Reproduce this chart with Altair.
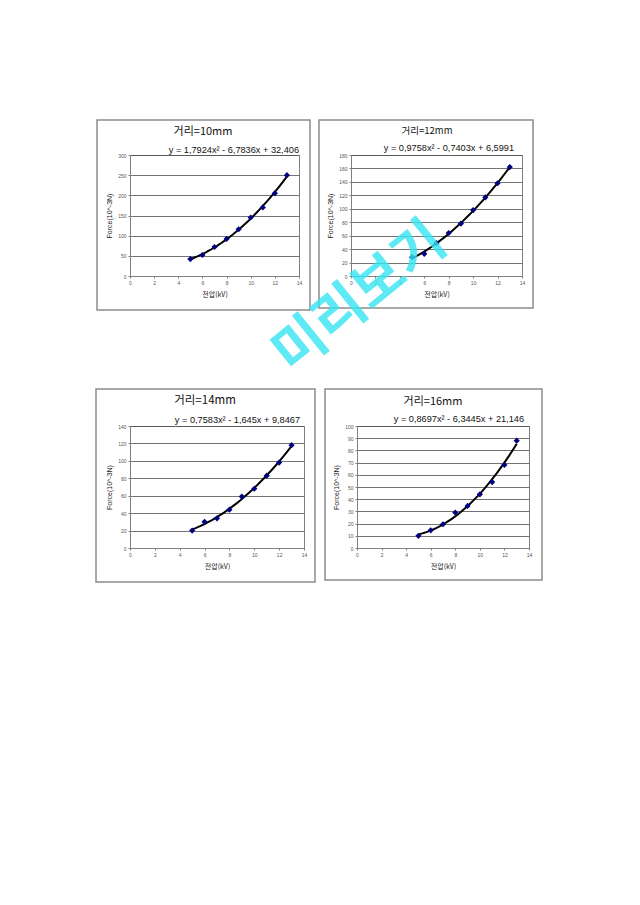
import altair as alt
import pandas as pd

# ---- data ----
voltage = [5, 6, 7, 8, 9, 10, 11, 12, 13]
force_10mm = [42, 52, 72, 92, 116, 145, 170, 205, 250]
force_12mm = [28, 33, 49, 64, 78, 98, 117, 138, 162]
force_14mm = [20, 30, 34, 44, 59, 68, 83, 98, 118]
force_16mm = [10, 14.5, 19.5, 29, 34.5, 44, 54, 68, 88]

titles = ["거리=10mm", "거리=12mm", "거리=14mm", "거리=16mm"]
equations = [
    "y = 1,7924x² - 6,7836x + 32,406",
    "y = 0,9758x² - 0,7403x + 6,5991",
    "y = 0,7583x² - 1,645x + 9,8467",
    "y = 0,8697x² - 6,3445x + 21,146",
]
x_ticks = [0, 2, 4, 6, 8, 10, 12, 14]
y_ticks_10 = [0, 50, 100, 150, 200, 250, 300]
y_ticks_12 = [0, 20, 40, 60, 80, 100, 120, 140, 160, 180]
y_ticks_14 = [0, 20, 40, 60, 80, 100, 120, 140]
y_ticks_16 = [0, 10, 20, 30, 40, 50, 60, 70, 80, 90, 100]
x_title = "전압(kV)"
y_title = "Force(10^-3N)"
watermark = "미리보기"

LATIN = "Liberation Sans, Noto Sans CJK KR"
KR = "Noto Sans CJK KR, Liberation Sans"


def panel(force, title, eq, yticks, w, h, frame, tpos, tsize, epos, mark=None):
    df = pd.DataFrame({"x": voltage, "y": force})
    xs = alt.Scale(domain=[x_ticks[0], x_ticks[-1]], nice=False)
    ys = alt.Scale(domain=[yticks[0], yticks[-1]], nice=False)
    xaxis = alt.Axis(values=x_ticks, tickCount=len(x_ticks), title=x_title,
                     grid=False, titleFont=KR, labelFont=LATIN)
    yaxis = alt.Axis(values=yticks, tickCount=len(yticks), title=y_title,
                     grid=True, titleFont=LATIN, labelFont=LATIN)
    xenc = alt.X("x:Q", scale=xs, axis=xaxis)
    yenc = alt.Y("y:Q", scale=ys, axis=yaxis)
    base = alt.Chart(df)
    fit = base.transform_regression(
        "x", "y", method="poly", order=2, extent=[voltage[0], voltage[-1]]
    ).mark_line(color="black", strokeWidth=2).encode(x=xenc, y=yenc)
    pts = base.mark_point(shape="diamond", filled=True, color="#000080",
                          size=38, opacity=1).encode(x=xenc, y=yenc)

    tdf = pd.DataFrame({"t": [title], "e": [eq], "w": [mark or ""]})
    tbase = alt.Chart(tdf)
    fl, fr, ft, fb = frame
    rect = tbase.mark_rect(fill="white", fillOpacity=0, stroke="#8c8c8c",
                           strokeWidth=1.5).encode(
        x=alt.value(fl), x2=alt.value(w + fr),
        y=alt.value(ft), y2=alt.value(h + fb))
    ttl = tbase.mark_text(font=KR, fontSize=tsize, color="#111",
                          align="center", baseline="middle").encode(
        x=alt.value(tpos[0]), y=alt.value(tpos[1]), text="t:N")
    eqt = tbase.mark_text(font=LATIN, fontSize=9.2, color="#111",
                          align="right", baseline="middle").encode(
        x=alt.value(epos[0]), y=alt.value(epos[1]), text="e:N")
    layers = [rect, fit, pts, ttl, eqt]
    if mark:
        wm = tbase.mark_text(font=KR, fontSize=55, fontWeight="bold",
                             color="#36e6f2", opacity=0.8, angle=321,
                             align="center", baseline="middle").encode(
            x=alt.value(mark_pos[0]), y=alt.value(mark_pos[1]), text="w:N")
        layers.append(wm)
    return alt.layer(*layers).properties(width=w, height=h)


mark_pos = (9, 143)

c1 = panel(force_10mm, titles[0], equations[0], y_ticks_10, 169, 121,
           (-33, 11, -35, 34), (73, -23), 11, (169, -5))
c2 = panel(force_12mm, titles[1], equations[1], y_ticks_12, 171, 121,
           (-32, 11, -35, 32), (76, -24), 9.5, (163, -7), mark=watermark)
c3 = panel(force_14mm, titles[2], equations[2], y_ticks_14, 174, 122,
           (-34, 11, -37, 34), (75, -25), 11.5, (170, -6))
c4 = panel(force_16mm, titles[3], equations[3], y_ticks_16, 172, 122,
           (-32, 13, -37, 32), (76, -24), 11, (167, -7))

row1 = alt.hconcat(c1, c2, spacing=52, bounds="flush")
row2 = alt.hconcat(c3, c4, spacing=53, bounds="flush")

chart = alt.vconcat(row1, row2, spacing=271, bounds="flush").properties(
    padding={"left": 94, "top": 118, "right": 4, "bottom": 4},
    background="white",
).configure_view(
    stroke="#808080", strokeWidth=1
).configure_axis(
    labelFontSize=5, labelColor="#555", labelPadding=2,
    labelOverlap=False, labelFlush=False, labelBound=False,
    titleFontSize=7, titleFontWeight="normal", titleColor="#222",
    titlePadding=5,
    domainColor="#808080", tickColor="#808080", tickSize=2,
    gridColor="#505050", gridWidth=0.8,
)

chart.save("out.html", embed_options={"renderer": "svg", "actions": False})
